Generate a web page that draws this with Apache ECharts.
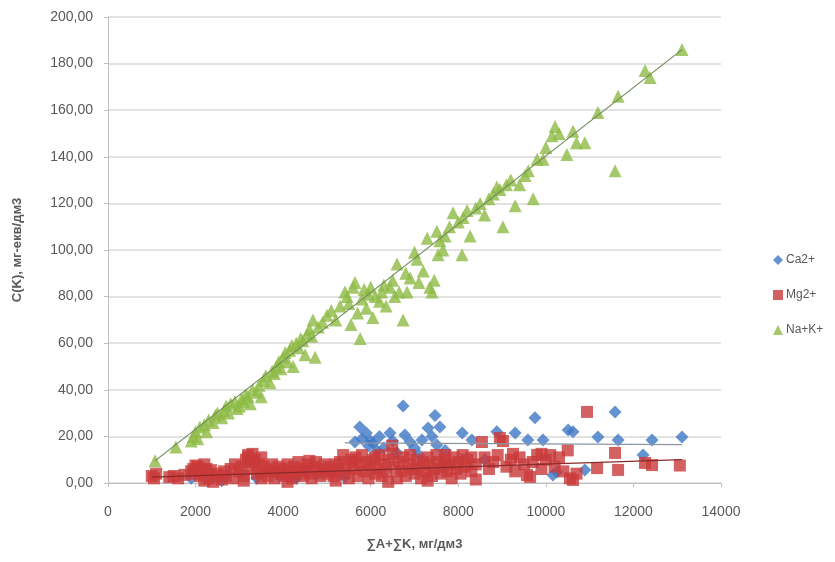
<!DOCTYPE html>
<html>
<head>
<meta charset="utf-8">
<script src="https://cdn.jsdelivr.net/npm/echarts@6/dist/echarts.min.js"></script>
<style>html,body{margin:0;padding:0;background:#fff;}#c{width:835px;height:562px;}</style>
</head>
<body>
<div id="c"></div>
<script>
var seriesNames = ['Ca2+', 'Mg2+', 'Na+K+'];
var xTicks = [0, 2000, 4000, 6000, 8000, 10000, 12000, 14000];

var caData = [
[1900,2],[2600,1],[3400,2],[3900,3],[4300,2],[4800,4],[5410,2.6],[5640,17.6],[5750,24],[5800,19],
[5900,21.5],[5950,16],[6000,18],[6060,17.2],[6140,14],[6200,20],[6300,15],[6440,21.5],[6500,18],[6600,13],
[6740,33],[6780,20.6],[6900,17.6],[7000,15],[7100,12],[7170,18.5],[7310,23.6],[7400,20],[7470,29],[7510,16.3],
[7580,24],[7700,14],[8090,21.5],[8310,18.5],[8600,10],[8880,22],[9300,21.5],[9590,18.5],[9750,28],[9935,18.5],
[10160,3.4],[10250,4.7],[10510,22.7],[10620,22],[10890,5.6],[11190,19.7],[11580,30.5],[11650,18.5],[12220,12],[12425,18.5],
[13110,19.7]
];

var mgData = [
[1000,3],[1050,2],[1100,4],[1400,2.5],[1500,3],[1600,2],[1750,3.5],[1900,5],[1950,6],[2000,4],
[2050,7],[2100,3],[2150,5],[2200,1],[2250,6],[2300,2],[2400,0.5],[2450,3],[2500,4],[2600,1.5],
[2650,5],[2700,3],[2800,6],[2850,2],[2900,8],[3000,5],[3050,7],[3100,3],[3150,10],[3200,11],
[3250,9],[3300,6],[3350,10],[3400,4],[3450,8],[3500,2],[3550,7],[3600,5],[3650,3],[3700,6],
[3750,8],[3800,2],[3850,5],[3900,7],[3950,4],[4000,6],[4050,3],[4100,8],[4150,5],[4200,2],
[4250,7],[4300,4],[4350,9],[4400,6],[4450,3],[4500,5],[4550,8],[4600,4],[4650,2],[4700,7],
[4750,9],[4800,5],[4850,3],[4900,6],[4950,8],[5000,4],[5050,7],[5100,5],[5150,3],[5200,8],
[5250,6],[5300,9],[5370,12],[5400,4],[5450,7],[5500,2],[5550,10],[5600,6],[5650,11],[5700,3],
[5750,8],[5800,12],[5850,5],[5900,9],[5950,2],[6000,7],[6050,10],[6100,4],[6150,6],[6200,12],
[6250,3],[6300,8],[6350,5],[6400,10],[6490,16],[6550,7],[6600,2],[6650,9],[6700,5],[6750,11],
[6800,3],[6850,8],[6900,12],[6950,6],[7000,4],[7050,10],[7100,7],[7150,2],[7200,9],[7250,5],
[7300,11],[7350,8],[7400,3],[7450,6],[7500,12],[7550,9],[7600,4],[7650,7],[7700,10],[7750,5],
[7800,8],[7850,2],[7900,11],[7950,6],[8000,9],[8050,4],[8100,12],[8150,7],[8200,10],[8300,5],
[8400,8],[8540,17.6],[8600,11],[8700,6],[8800,9],[8900,12],[8950,19.3],[9020,18],[9100,7],[9200,10],
[9300,5],[9400,11],[9500,8],[9570,3.4],[9640,2.6],[9700,9],[9800,12],[9900,6],[10000,10],[10100,12],
[10200,7],[10300,11],[10400,5],[10500,14],[10550,2],[10620,1.3],[10700,4],[10940,30.5],[11170,6.4],[11580,12.9],
[11650,5.6],[12265,8.6],[12425,7.7],[13060,7.5],
[2000,7.5],[2200,8],[2350,5.5],[3200,12],[3300,12.5],[3500,11],[4600,9.5],[5600,9],[6100,11],[6500,12.5],
[7700,12],[8300,11],[9250,12.5],[9900,12.5],[3100,1],[4100,0.5],[5200,1],[6400,0.5],[7300,1],[8400,1.5]
];

var naData = [
[1073,9.5],[1550,15.5],[1900,18],[1950,20],[2000,22],[2050,19],[2100,24],[2200,25],[2250,22],[2300,27],
[2400,26],[2450,29],[2500,30],[2600,28],[2650,31],[2700,33],[2750,30],[2800,34],[2900,35],[2950,32],
[3000,33],[3050,36],[3100,35],[3150,38],[3200,37],[3250,34],[3300,40],[3400,39],[3450,42],[3500,37],
[3550,44],[3600,46],[3700,43],[3750,48],[3800,47],[3850,50],[3900,52],[3950,49],[4000,54],[4050,56],
[4100,52],[4150,57],[4200,59],[4230,50],[4300,60],[4350,58],[4400,62],[4450,61],[4500,55],[4550,64],
[4600,66],[4650,63],[4680,70],[4730,54],[4800,67],[4900,69],[5000,72],[5100,74],[5200,70],[5300,76],
[5410,82],[5460,80],[5500,77],[5550,68],[5600,84],[5640,86],[5700,73],[5760,62],[5800,79],[5850,83],
[5900,75],[5950,81],[6000,84],[6050,71],[6100,80],[6200,78],[6250,82],[6300,85],[6350,76],[6440,84],
[6500,87],[6550,80],[6600,94],[6650,82],[6740,70],[6800,90],[6830,82],[6900,88],[7000,99],[7060,96],
[7100,86],[7200,91],[7290,105],[7350,84],[7400,82],[7450,87],[7510,108],[7540,98],[7580,104],[7650,100],
[7700,106],[7800,110],[7880,116],[8000,112],[8085,98],[8110,114],[8200,117],[8270,106],[8400,118],[8500,120],
[8600,115],[8700,122],[8800,124],[8880,127],[8950,126],[9020,110],[9100,128],[9200,130],[9300,119],[9400,128],
[9525,132],[9600,134],[9710,122],[9800,139],[9935,139],[10000,144],[10140,149],[10210,153],[10300,150],[10480,141],
[10620,151],[10700,146],[10890,146],[11190,159],[11580,134],[11650,166],[12265,177],[12380,174],[13110,186]
];

var trendCa = [[5410,17.2],[13110,16.5]];
var trendMg = [[1000,2.5],[13110,10]];
var trendNa = [[1073,9.5],[13110,186]];

var colors = ['#3F78C6', '#C93A3A', '#8DBA45'];
var trendColor = '#8C96A3';

var chart = echarts.init(document.getElementById('c'), null, {renderer: 'canvas'});
var labelColor = '#595959';
chart.setOption({
  animation: false,
  backgroundColor: '#ffffff',
  textStyle: {fontFamily: 'Liberation Sans, Arial, sans-serif'},
  grid: {left: 108, right: 114, top: 17, bottom: 79, containLabel: false},
  legend: {
    data: [
      {name: seriesNames[0], icon: 'diamond'},
      {name: seriesNames[1], icon: 'rect'},
      {name: seriesNames[2], icon: 'triangle'}
    ],
    orient: 'vertical',
    left: 768,
    top: 249,
    itemWidth: 10,
    itemHeight: 10,
    itemGap: 23,
    textStyle: {color: labelColor, fontSize: 12, padding: [0, 0, 0, -2]}
  },
  xAxis: {
    type: 'value',
    min: xTicks[0],
    max: xTicks[xTicks.length - 1],
    interval: 2000,
    name: '∑A+∑K, мг/дм3',
    nameLocation: 'middle',
    nameGap: 55,
    nameTextStyle: {color: labelColor, fontSize: 13, fontWeight: 'bold'},
    axisLine: {show: true, lineStyle: {color: '#BFBFBF', width: 1}},
    axisTick: {show: true, length: 4, lineStyle: {color: '#BFBFBF'}},
    axisLabel: {color: labelColor, fontSize: 14, margin: 22,
      formatter: function (v) { return String(v); }},
    splitLine: {show: false}
  },
  yAxis: {
    type: 'value',
    min: 0,
    max: 200,
    interval: 20,
    name: 'C(K), мг-екв/дм3',
    nameLocation: 'middle',
    nameGap: 84,
    nameRotate: 90,
    nameTextStyle: {color: labelColor, fontSize: 13, fontWeight: 'bold'},
    axisLine: {show: true, lineStyle: {color: '#BFBFBF', width: 1}},
    axisTick: {show: true, length: 4, lineStyle: {color: '#BFBFBF'}},
    axisLabel: {color: labelColor, fontSize: 14, margin: 15,
      formatter: function (v) { return v.toFixed(2).replace('.', ','); }},
    splitLine: {show: true, lineStyle: {color: '#D9D9D9', width: 1.5}}
  },
  series: [
    {name: seriesNames[0], type: 'scatter', symbol: 'diamond', symbolSize: 13, data: caData,
      itemStyle: {color: colors[0]}, z: 2},
    {name: seriesNames[1], type: 'scatter', symbol: 'rect', symbolSize: 12, data: mgData,
      itemStyle: {color: colors[1]}, z: 3},
    {name: seriesNames[2], type: 'scatter', symbol: 'triangle', symbolSize: 13, data: naData,
      itemStyle: {color: colors[2]}, z: 4},
    {name: 'trendCa', type: 'line', data: trendCa, symbol: 'none', silent: true,
      lineStyle: {color: trendColor, width: 1.2}, z: 5},
    {name: 'trendMg', type: 'line', data: trendMg, symbol: 'none', silent: true,
      lineStyle: {color: '#8B2A2A', width: 1.2}, z: 5},
    {name: 'trendNa', type: 'line', data: trendNa, symbol: 'none', silent: true,
      lineStyle: {color: '#6F8A5A', width: 1.2}, z: 5}
  ]
});
</script>
</body>
</html>
